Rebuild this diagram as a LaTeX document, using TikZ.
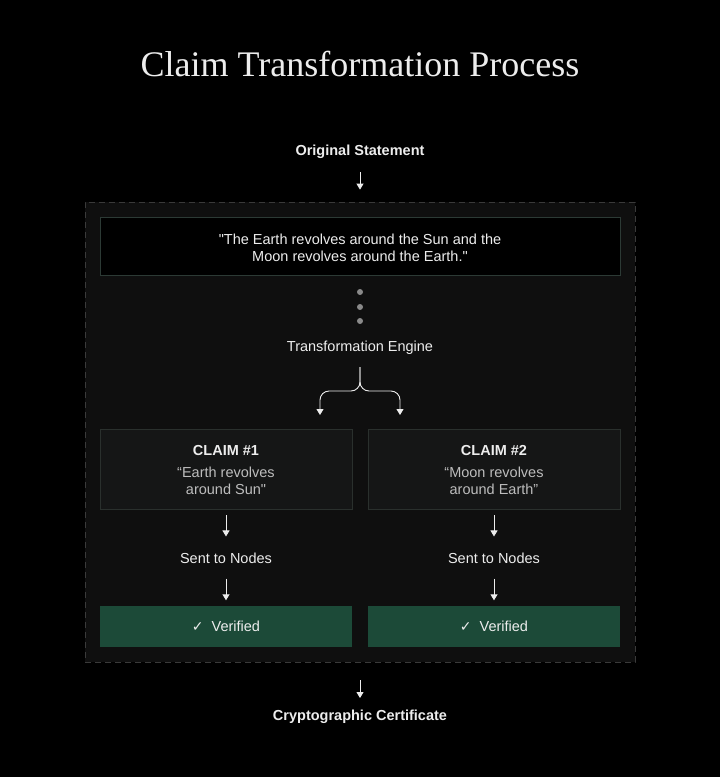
\documentclass[tikz,border=0pt]{standalone}
\usepackage{fontspec}
\setmainfont{Liberation Sans}
\newfontfamily\titlefont{Liberation Serif}
\newfontfamily\symfont{DejaVu Sans}
\usetikzlibrary{arrows.meta}
\definecolor{bg}{HTML}{000000}
\definecolor{panel}{HTML}{0F0F0F}
\definecolor{panelline}{HTML}{3A3A3A}
\definecolor{stmtline}{HTML}{2C3A35}
\definecolor{claimfill}{HTML}{151616}
\definecolor{claimline}{HTML}{2A302D}
\definecolor{okfill}{HTML}{1C4A38}
\definecolor{txt}{HTML}{EDEDED}
\definecolor{subtxt}{HTML}{BDBDBD}
\definecolor{dotc}{HTML}{8A8A8A}
\tikzset{
  body/.style={font=\fontsize{14.5}{17}\selectfont, text=txt, inner sep=0pt, align=center},
  boldtxt/.style={body, font=\fontsize{14.5}{17}\selectfont\bfseries},
  arr/.style={draw=txt, line width=0.9pt, -{Triangle[length=6pt,width=7pt]}},
  claimbox/.style={draw=claimline, fill=claimfill, line width=0.8pt, minimum width=252pt, minimum height=80pt, inner sep=0pt},
  okbox/.style={fill=okfill, minimum width=252pt, minimum height=41pt, inner sep=0pt, text=txt, font=\fontsize{14.5}{17}\selectfont},
  dotnode/.style={circle, fill=dotc, minimum size=6pt, inner sep=0pt}
}
\begin{document}
\begin{tikzpicture}[x=1pt,y=-1pt]
\fill[bg] (0,0) rectangle (720,777);
\useasboundingbox (0,0) rectangle (720,777);

\node[text=txt, font=\titlefont\fontsize{36}{42}\selectfont, inner sep=0pt] (title) at (360,64) {Claim Transformation Process};

\node[boldtxt] (orig) at (360,152) {Original Statement};

\node[draw=panelline, fill=panel, dash pattern=on 6pt off 4pt, line width=0.8pt, minimum width=550pt, minimum height=460pt, inner sep=0pt] (outer) at (360,432) {};

\draw[arr, shorten <=13pt, shorten >=12pt] (orig.south) -- (outer.north);

\node[draw=stmtline, fill=bg, line width=0.8pt, minimum width=520pt, minimum height=58pt, inner sep=0pt] (stmt) at (360,246) {};
\node[body] (stmttext) at (360,248) {\textquotedbl The Earth revolves around the Sun and the\\Moon revolves around the Earth.\textquotedbl};

\node[dotnode] (d1) at (360,292) {};
\node[dotnode] (d2) at (360,307) {};
\node[dotnode] (d3) at (360,321) {};

\node[body] (engine) at (360,348) {Transformation Engine};

\coordinate (top) at (360,367);
\coordinate (split) at (360,391);
\coordinate (b1) at (320,415);
\coordinate (b2) at (400,415);
\draw[arr, rounded corners=9pt] (top) -- (split) -- (b1 |- split) -- (b1);
\draw[arr, rounded corners=9pt] (top) -- (split) -- (b2 |- split) -- (b2);

\node[claimbox] (c1) at (226,469) {};
\node[claimbox] (c2) at (494,469) {};
\node[boldtxt] (c1h) at (226,451) {CLAIM \#1};
\node[body, text=subtxt] (c1t) at (226,481) {“Earth revolves\\around Sun\textquotedbl};
\node[boldtxt] (c2h) at (494,451) {CLAIM \#2};
\node[body, text=subtxt] (c2t) at (494,481) {“Moon revolves\\around Earth”};

\node[body] (s1) at (226,558) {Sent to Nodes};
\node[body] (s2) at (494,558) {Sent to Nodes};

\draw[arr, shorten <=6pt, shorten >=16pt] (c1.south) -- (s1.north);
\draw[arr, shorten <=6pt, shorten >=16pt] (c2.south) -- (s2.north);

\node[okbox] (v1) at (226,626) {{\symfont\fontsize{14}{16}\selectfont ✓}\hspace{8pt}Verified};
\node[okbox] (v2) at (494,626) {{\symfont\fontsize{14}{16}\selectfont ✓}\hspace{8pt}Verified};

\draw[arr, shorten <=15pt, shorten >=5pt] (s1.south) -- (v1.north);
\draw[arr, shorten <=15pt, shorten >=5pt] (s2.south) -- (v2.north);

\node[boldtxt] (cert) at (360,717) {Cryptographic Certificate};
\draw[arr, shorten <=18pt, shorten >=12pt] (outer.south) -- (cert.north);
\end{tikzpicture}
\end{document}
